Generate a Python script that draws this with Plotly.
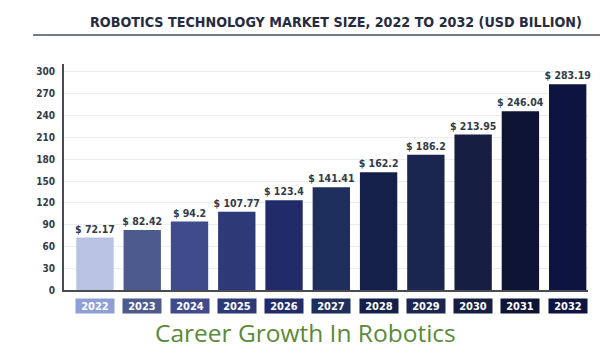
import plotly.graph_objects as go

years = ["2022", "2023", "2024", "2025", "2026", "2027", "2028", "2029", "2030", "2031", "2032"]
values = [72.17, 82.42, 94.2, 107.77, 123.4, 141.41, 162.2, 186.2, 213.95, 246.04, 283.19]
bar_colors = ["#b8c3e4", "#4d5a8c", "#3f4b8c", "#2e3a78", "#212b6a", "#1e2f5e",
              "#15204a", "#1a2650", "#161f42", "#0e1434", "#0c1440"]
box_colors = ["#8e9fd6", "#4d5a8c", "#3f4b8c", "#2e3a78", "#212b6a", "#1e2f5e",
              "#15204a", "#1a2650", "#161f42", "#0e1434", "#0c1440"]
y_ticks = [0, 30, 60, 90, 120, 150, 180, 210, 240, 270, 300]

title_text = "ROBOTICS TECHNOLOGY MARKET SIZE, 2022 TO 2032 (USD BILLION)"
footer_text = "Career Growth In Robotics"

cond = "DejaVu Sans Condensed, Liberation Sans Narrow, Arial Narrow, sans-serif"

fig = go.Figure()
fig.add_trace(go.Bar(
    x=years, y=values,
    marker=dict(color=bar_colors, line=dict(width=0)),
    width=0.79,
    text=[f"<b>$ {v}</b>" for v in values],
    textposition="outside",
    constraintext="none",
    textfont=dict(family=cond, size=10.5, color="#333a48"),
    cliponaxis=False,
))

annotations = []
for i, (yr, c) in enumerate(zip(years, box_colors)):
    annotations.append(dict(
        x=i, xref="x", y=-0.07, yref="paper", yanchor="middle",
        text=f"<b>{yr}</b>", showarrow=False,
        font=dict(family=cond, size=11, color="white"),
        bgcolor=c, width=36, height=12, borderpad=1,
    ))
annotations.append(dict(
    x=0.519, xref="paper", y=1.186, yref="paper", yanchor="middle",
    text=f"<b>{title_text}</b>", showarrow=False,
    font=dict(family=cond, size=14.2, color="#262b3f"),
))
annotations.append(dict(
    x=0.46, xref="paper", y=-0.19, yref="paper", yanchor="middle",
    text=footer_text, showarrow=False,
    font=dict(family="Open Sans, Lato, sans-serif", size=24.5, color="#5a8a3a"),
))

fig.update_layout(
    width=600, height=350,
    margin=dict(l=64, r=12, t=64, b=60),
    paper_bgcolor="white", plot_bgcolor="white",
    showlegend=False,
    annotations=annotations,
    shapes=[dict(type="line", xref="paper", yref="paper",
                 x0=-0.059, x1=1.023, y0=1.128, y1=1.128,
                 line=dict(color="#4a4f5c", width=1.5))],
    bargap=0.2,
)
fig.update_xaxes(type="category", range=[-0.655, 10.43], showticklabels=False, ticks="",
                 showline=True, linecolor="#4a4a52", linewidth=2, showgrid=False)
fig.update_yaxes(range=[0, 311], tickvals=y_ticks, ticktext=[f"<b>{t}</b>" for t in y_ticks],
                 tickfont=dict(family=cond, size=10, color="#333a48"),
                 showline=True, linecolor="#4a4a52", linewidth=2,
                 gridcolor="#ececec", gridwidth=1, zeroline=False, ticks="",
                 ticklabelstandoff=5)

fig.write_html("out.html")
